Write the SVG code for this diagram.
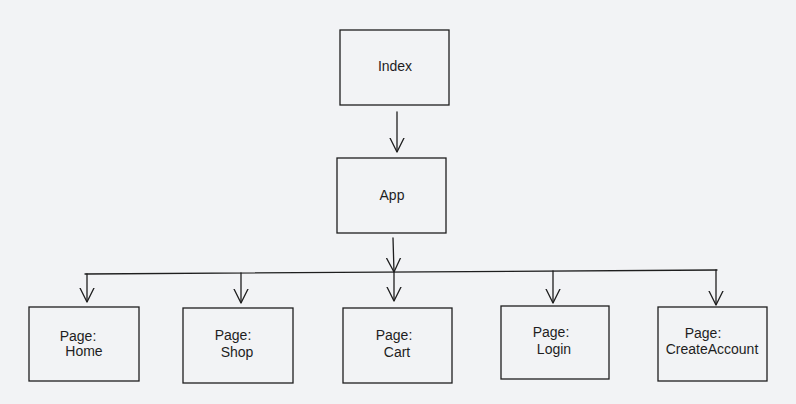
<svg xmlns="http://www.w3.org/2000/svg" width="796" height="404" viewBox="0 0 796 404">
<style>
.box{fill:none;stroke:#1e1e1e;stroke-width:1.3}
.ln{fill:none;stroke:#1e1e1e;stroke-width:1.3;stroke-linecap:round}
.t{font-family:"Liberation Sans",Arial,sans-serif;font-size:14px;fill:#1e1e1e;text-anchor:middle}
</style>
<defs>
<marker id="ah" viewBox="0 0 14 16" refX="14" refY="8" markerWidth="14" markerHeight="16" markerUnits="userSpaceOnUse" orient="auto">
<path d="M0,1 L14,8 L0,15" fill="none" stroke="#1e1e1e" stroke-width="1.3" stroke-linecap="round"/>
</marker>
</defs>
<rect width="796" height="404" fill="#f2f3f5"/>
<g id="connectors">
<line class="ln" x1="397" y1="112" x2="397" y2="152" marker-end="url(#ah)"/>
<line class="ln" x1="393" y1="238" x2="394" y2="272" marker-end="url(#ah)"/>
<line class="ln" x1="85" y1="274" x2="717" y2="270"/>
<line class="ln" x1="87" y1="274" x2="87" y2="302" marker-end="url(#ah)"/>
<line class="ln" x1="241" y1="273" x2="241" y2="303" marker-end="url(#ah)"/>
<line class="ln" x1="394" y1="272" x2="394" y2="301" marker-end="url(#ah)"/>
<line class="ln" x1="553" y1="271" x2="553" y2="303" marker-end="url(#ah)"/>
<line class="ln" x1="716" y1="270" x2="716" y2="305" marker-end="url(#ah)"/>
</g>
<g id="index">
<rect class="box" x="340" y="30" width="109" height="75"/>
<text class="t" x="395" y="71">Index</text>
</g>
<g id="app">
<rect class="box" x="337" y="158" width="109" height="75"/>
<text class="t" x="392" y="200">App</text>
</g>
<g id="home">
<rect class="box" x="29" y="307" width="110" height="74"/>
<text class="t" x="78" y="341">Page:</text>
<text class="t" x="84" y="356">Home</text>
</g>
<g id="shop">
<rect class="box" x="183" y="308" width="110" height="75"/>
<text class="t" x="233" y="340">Page:</text>
<text class="t" x="237" y="357">Shop</text>
</g>
<g id="cart">
<rect class="box" x="343" y="308" width="109" height="75"/>
<text class="t" x="394" y="340">Page:</text>
<text class="t" x="397" y="357">Cart</text>
</g>
<g id="login">
<rect class="box" x="501" y="306" width="108" height="73"/>
<text class="t" x="551" y="337">Page:</text>
<text class="t" x="554" y="354">Login</text>
</g>
<g id="createaccount">
<rect class="box" x="658" y="307" width="109" height="74"/>
<text class="t" x="703" y="338">Page:</text>
<text class="t" x="712" y="354">CreateAccount</text>
</g>
</svg>
